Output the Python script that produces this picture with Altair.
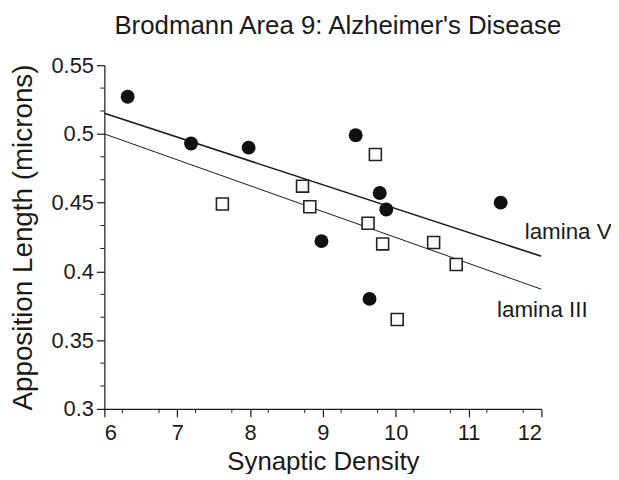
import altair as alt
import pandas as pd

# Lamina V (filled circles)
circle_x = [6.32, 7.19, 7.98, 9.45, 9.78, 9.87, 11.44, 8.98, 9.64]
circle_y = [0.527, 0.493, 0.490, 0.499, 0.457, 0.445, 0.450, 0.422, 0.380]
# Lamina III (open squares)
square_x = [7.62, 8.72, 8.82, 9.72, 9.62, 9.82, 10.52, 10.83, 10.02]
square_y = [0.449, 0.462, 0.447, 0.485, 0.435, 0.420, 0.421, 0.405, 0.365]

# Fit lines
line_x = [6, 12]
line_v_y = [0.515, 0.411]
line_iii_y = [0.500, 0.387]

# Labels
label_text = ["lamina V", "lamina III"]
label_x = [11.77, 11.39]
label_y = [0.4286, 0.3722]

x_major = [6, 7, 8, 9, 10, 11, 12]
x_minor = [v + f for v in range(6, 12) for f in (0.25, 0.75)]
y_major = [0.3, 0.35, 0.4, 0.45, 0.5, 0.55]
y_minor = [round(0.3 + i * 0.05 / 3, 5) for i in range(16) if i % 3 != 0]

FONT = "Liberation Sans"
INK = "#1a1a1a"
W, H = 440, 346

xs = alt.Scale(domain=[6, 12], nice=False, zero=False)
ys = alt.Scale(domain=[0.3, 0.55], nice=False, zero=False)

circles = pd.DataFrame({"x": circle_x, "y": circle_y})
squares = pd.DataFrame({"x": square_x, "y": square_y})
lines = pd.DataFrame({
    "x": line_x * 2,
    "y": line_v_y + line_iii_y,
    "lamina": ["V"] * 2 + ["III"] * 2,
})
labels = pd.DataFrame({"t": label_text, "x": label_x, "y": label_y})

xaxis = alt.Axis(values=x_major, format="d", title="Synaptic Density",
                 grid=False, tickSize=8, tickColor=INK, domainColor=INK,
                 domainWidth=1.2, tickWidth=1.2, labelFont=FONT, labelFontSize=22,
                 labelColor=INK, labelPadding=6, titleFont=FONT, titleFontSize=26,
                 titleFontWeight="normal", titleColor=INK, titlePadding=5)
yaxis = alt.Axis(values=y_major, title="Apposition Length (microns)",
                 labelExpr="datum.value == 0.5 ? '0.5' : datum.value == 0.4 ? '0.4' : datum.value == 0.3 ? '0.3' : format(datum.value, '.2f')",
                 grid=False, tickSize=8, tickColor=INK, domainColor=INK,
                 domainWidth=1.2, tickWidth=1.2, labelFont=FONT, labelFontSize=22,
                 labelColor=INK, labelPadding=3, titleFont=FONT, titleFontSize=28,
                 titleFontWeight="normal", titleColor=INK, titlePadding=14)

base_lines = alt.Chart(lines).mark_line(color=INK, clip=True).encode(
    x=alt.X("x:Q", scale=xs, axis=xaxis),
    y=alt.Y("y:Q", scale=ys, axis=yaxis),
    detail="lamina:N",
    strokeWidth=alt.StrokeWidth("lamina:N", scale=alt.Scale(domain=["V", "III"], range=[1.6, 1.0]), legend=None),
)

xminor = alt.Chart(pd.DataFrame({"x": x_minor})).mark_rule(color=INK, strokeWidth=1).encode(
    x=alt.X("x:Q", scale=xs), y=alt.value(H), y2=alt.value(H + 4))
yminor = alt.Chart(pd.DataFrame({"y": y_minor})).mark_rule(color=INK, strokeWidth=1).encode(
    y=alt.Y("y:Q", scale=ys), x=alt.value(0), x2=alt.value(-4))

circ = alt.Chart(circles).mark_point(shape="circle", filled=True, size=196, color="#111", opacity=1).encode(
    x=alt.X("x:Q", scale=xs), y=alt.Y("y:Q", scale=ys))
sq = alt.Chart(squares).mark_point(shape="square", filled=False, size=144, color="#222", strokeWidth=1.6, fill="white", fillOpacity=1, opacity=1).encode(
    x=alt.X("x:Q", scale=xs), y=alt.Y("y:Q", scale=ys))

txt = alt.Chart(labels).mark_text(align="left", baseline="middle", font=FONT, fontSize=22.5, color=INK).encode(
    x=alt.X("x:Q", scale=xs), y=alt.Y("y:Q", scale=ys), text="t:N")

chart = alt.layer(base_lines, xminor, yminor, circ, sq, txt).properties(
    width=W, height=H,
    title=alt.TitleParams("Brodmann Area 9: Alzheimer's Disease", font=FONT, fontSize=26,
                          fontWeight="normal", color=INK, anchor="middle", offset=15, dx=15),
    autosize=alt.AutoSizeParams(type="none"),
    padding={"left": 97, "top": 56, "right": 70, "bottom": 64},
).configure_view(stroke=None)

chart.save("out.html", embed_options={"renderer": "svg", "actions": False})
